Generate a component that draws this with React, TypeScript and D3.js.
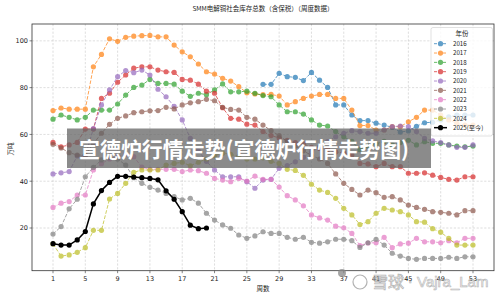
import React from "react";
import * as d3 from "d3";

const W = 500;
const H = 297;

const weeks: number[] = Array.from({ length: 53 }, (_, i) => i + 1);
const xTicks = [1, 5, 9, 13, 17, 21, 25, 29, 33, 37, 41, 45, 49, 53];
const yTicks = [20, 40, 60, 80, 100];

type V = number | null;
const N = null;

const s2016: V[] = [N, N, N, N, N, N, N, N, N, N, N, N, N, N, N, N, N, N, N, N, N, N, N, N, N, N,
  81.4, 81.4, 86.1, 84.7, 84.4, 83.0, 86.5, 83.2, 80.1, 72.6, 72.6, 68.3, 65.9, 65.9, 64.8, 64.0, 63.0, 61.0, 61.5, 63.5, 65.0, 65.2, 66.2, 67.5, 68.3, 68.3, 68.3];
const s2017: V[] = [70.2, 71.3, 70.8, 70.8, 70.8, 88.9, 94.2, 100.9, 99.8, 101.5, 102.0, 102.2, 102.3, 101.7, 101.7, 98.2, 95.3, 93.2, 90.1, 86.8, 85.8, 84.0, 82.8, 80.4, 77.8, 77.3, 77.0,
  77.1, 76.4, 72.6, 74.0, 75.4, 76.4, 77.1, 77.1, 75.4, 75.4, 70.4, 63.8, 63.8, 61.9, 61.9, 63.3, 63.3, 65.4, 67.3, 70.4, 70.4, 68.3, 66.2, 64.7, 64.0, 64.0];
const s2018: V[] = [66.5, 68.3, 67.3, 66.2, 67.3, 70.4, 70.4, 70.4, 73.0, 76.8, 80.1, 81.1, 83.5, 81.8, 81.8, 81.5, 78.5, 76.3, 77.6, 77.0, 79.0, 81.6, 78.2, 78.2, 78.5, 77.6, 76.6,
  76.1, 72.6, 69.7, 69.7, 68.7, 66.2, 64.0, 63.6, 61.2, 59.0, 57.0, 53.5, 55.0, 56.0, 57.0, 55.5, 56.5, 57.5, 55.5, 56.9, 56.2, 56.2, 55.5, 55.0, 54.7, 55.0];
const s2019: V[] = [56.6, 54.7, 55.5, 56.6, 62.3, 62.3, 75.4, 77.6, 82.3, 85.4, 88.3, 88.9, 88.9, 87.5, 86.8, 86.5, 83.5, 83.2, 81.5, 78.5, 77.6, 71.4, 66.9, 66.5, 64.4, 64.0, 61.2,
  59.5, 58.5, 57.5, 56.5, 56.0, 54.5, 54.0, 53.5, 52.5, 52.0, 51.2, 47.6, 47.4, 46.2, 47.6, 46.2, 46.2, 43.4, 43.4, 43.6, 42.6, 41.6, 40.8, 40.5, 41.9, 41.9];
const s2020: V[] = [43.1, 43.6, 44.1, 50.8, 50.8, 62.5, 72.6, 79.0, 84.7, 87.3, 86.4, 87.5, 85.4, 79.3, 76.1, 72.0, 66.2, 58.3, 53.0, 48.5, 44.8, 41.9, 41.9, 41.9, 39.8, 37.0, 40.5,
  40.8, 45.5, 46.7, 48.3, 50.2, 52.6, 54.7, 56.9, 59.0, 60.5, 61.6, 61.2, 60.5, 60.5, 61.9, 63.3, 63.6, 63.3, 61.2, 58.3, 57.2, 56.5, 55.5, 54.5, 54.5, 55.5];
const s2021: V[] = [55.8, 54.2, 52.2, 51.2, 51.2, 56.0, 60.5, 64.3, 66.9, 67.9, 69.3, 69.7, 70.1, 70.2, 71.6, 70.9, 72.6, 73.5, 74.0, 75.0, 74.4, 71.6, 70.7, 70.4, 67.3, 66.5, 64.0,
  61.6, 59.5, 57.0, 55.0, 53.0, 51.0, 49.5, 47.6, 43.1, 39.1, 36.5, 34.1, 36.2, 35.1, 33.1, 33.4, 32.0, 29.8, 28.8, 28.0, 27.0, 26.7, 26.3, 25.6, 27.4, 27.4];
const s2022: V[] = [28.8, 30.6, 31.3, 34.1, 34.1, 44.8, 47.5, 49.5, 50.5, 51.5, 50.5, 46.0, 45.1, 45.1, 45.1, 45.1, 44.1, 44.8, 44.5, 43.4, 41.2, 40.5, 39.8, 41.2, 40.1, 42.2, 40.8,
  40.8, 37.5, 33.8, 32.0, 29.5, 25.6, 24.3, 23.4, 20.8, 20.1, 17.7, 12.5, 13.6, 13.7, 16.0, 11.6, 13.2, 13.5, 15.6, 14.1, 14.1, 13.7, 14.6, 13.7, 15.6, 15.6];
const s2023: V[] = [17.4, 20.6, 28.2, 32.3, 41.9, 45.9, 49.1, 50.2, 49.5, 46.9, 41.5, 39.1, 37.4, 36.2, 34.8, 33.4, 32.0, 32.7, 30.6, 26.3, 23.4, 21.3, 19.9, 17.0, 15.6, 16.6, 18.4,
  17.7, 17.7, 16.0, 15.2, 16.0, 13.9, 13.5, 14.1, 15.2, 15.2, 14.6, 11.7, 13.7, 15.2, 12.7, 9.2, 8.0, 7.0, 6.6, 7.0, 7.0, 7.0, 7.5, 7.0, 7.7, 7.7];
const s2024: V[] = [13.2, 8.0, 8.5, 9.6, 11.6, 19.0, 19.0, 32.4, 34.8, 39.1, 43.8, 44.8, 44.8, 44.8, 46.9, 47.6, 48.1, 46.6, 48.1, 49.5, 50.9, 52.0, 51.5, 50.5, 49.5, 49.5, 50.0,
  48.5, 47.6, 45.1, 44.6, 42.5, 38.7, 36.2, 35.2, 32.7, 28.4, 25.6, 21.5, 22.7, 26.3, 28.4, 27.7, 27.0, 25.6, 22.7, 22.5, 19.7, 18.2, 15.6, 12.7, 12.7, 12.7];
const s2025: V[] = [13.3, 12.7, 12.7, 14.9, 18.5, 30.3, 36.0, 39.5, 42.1, 42.1, 41.8, 41.5, 41.2, 40.6, 35.9, 32.3, 27.0, 21.2, 19.7, 20.0];

const seriesNames = ["2016", "2017", "2018", "2019", "2020", "2021", "2022", "2023", "2024", "2025(至今)"];
const seriesValues: V[][] = [s2016, s2017, s2018, s2019, s2020, s2021, s2022, s2023, s2024, s2025];
const seriesColors = ["#1f77b4", "#ff7f0e", "#2ca02c", "#d62728", "#9467bd", "#8c564b", "#e377c2", "#7f7f7f", "#bcbd22", "#000000"];

const title = "SMM电解铜社会库存总数（含保税）（周度数据）";
const xLabel = "周数";
const yLabel = "万吨";
const legendTitle = "年份";
const bannerText = "宣德炉行情走势(宣德炉行情走势图)";

const L = 32, R = 494, T = 24, B = 270.7;
const CJK = "'Noto Sans CJK SC', 'DejaVu Sans', sans-serif";
const NUM = "'DejaVu Sans', sans-serif";

export default function App() {
  const x = d3.scaleLinear().domain([-1.6, 55.6]).range([L, R]);
  const y = d3.scaleLinear().domain([1.75, 107.2]).range([B, T]);

  const line = d3
    .line<[number, V]>()
    .defined((d) => d[1] !== null)
    .x((d) => x(d[0]))
    .y((d) => y(d[1] as number));

  const legX = 431, legY = 27.5, legW = 61.5, legH = 108.5;

  return (
    <svg width={W} height={H} style={{ position: "absolute", left: 0, top: 0, background: "#fff" }}>
      <rect x={0} y={0} width={W} height={H} fill="#fff" />
      <text x={263} y={11} textAnchor="middle" fontSize={6.5} fontFamily={CJK} fill="#222">{title}</text>

      {/* grid */}
      <g>
        {xTicks.map((t) => (
          <line key={"gx" + t} x1={x(t)} x2={x(t)} y1={T} y2={B} stroke="#c8c8c8" strokeWidth={0.6} strokeDasharray="2.2,1.6" />
        ))}
        {yTicks.map((t) => (
          <line key={"gy" + t} x1={L} x2={R} y1={y(t)} y2={y(t)} stroke="#c8c8c8" strokeWidth={0.6} strokeDasharray="2.2,1.6" />
        ))}
      </g>

      {/* series */}
      {seriesValues.map((vals, si) => {
        const pts: [number, V][] = vals.map((v, i) => [weeks[i], v]);
        const isLast = si === seriesValues.length - 1;
        const c = seriesColors[si];
        return (
          <g key={si} opacity={isLast ? 1 : 0.7}>
            <path d={line(pts) || ""} fill="none" stroke={c} strokeWidth={isLast ? 1.5 : 1} strokeDasharray={isLast ? undefined : "3.7,1.6"} />
            {pts.filter((p) => p[1] !== null).map((p, i) => (
              <circle key={i} cx={x(p[0])} cy={y(p[1] as number)} r={2.6} fill={c} />
            ))}
          </g>
        );
      })}

      {/* frame */}
      <rect x={L} y={T} width={R - L} height={B - T} fill="none" stroke="#333" strokeWidth={0.8} />

      {/* ticks */}
      {xTicks.map((t) => (
        <g key={"tx" + t}>
          <line x1={x(t)} x2={x(t)} y1={B} y2={B + 2.5} stroke="#333" strokeWidth={0.6} />
          <text x={x(t)} y={B + 10.5} textAnchor="middle" fontSize={6.5} fontFamily={NUM} fill="#222">{t}</text>
        </g>
      ))}
      {yTicks.map((t) => (
        <g key={"ty" + t}>
          <line x1={L - 2.5} x2={L} y1={y(t)} y2={y(t)} stroke="#333" strokeWidth={0.6} />
          <text x={L - 4} y={y(t) + 2.3} textAnchor="end" fontSize={6.5} fontFamily={NUM} fill="#222">{t}</text>
        </g>
      ))}
      <text x={263} y={291} textAnchor="middle" fontSize={6.5} fontFamily={CJK} fill="#222">{xLabel}</text>
      <text transform={`translate(12.5,149) rotate(-90)`} textAnchor="middle" fontSize={6.5} fontFamily={CJK} fill="#222">{yLabel}</text>

      {/* legend */}
      <rect x={legX} y={legY} width={legW} height={legH} rx={2} fill="#fff" fillOpacity={0.8} stroke="#cccccc" strokeWidth={0.6} />
      <text x={legX + 31} y={legY + 8.5} textAnchor="middle" fontSize={6.5} fontFamily={CJK} fill="#222">{legendTitle}</text>
      {seriesNames.map((n, i) => {
        const ly = 43.7 + i * 9.33;
        const isLast = i === seriesNames.length - 1;
        return (
          <g key={n}>
            <g opacity={isLast ? 1 : 0.7}>
              <line x1={434} x2={447} y1={ly} y2={ly} stroke={seriesColors[i]} strokeWidth={isLast ? 1.5 : 1} strokeDasharray={isLast ? undefined : "3,1.5"} />
              <circle cx={440.5} cy={ly} r={2.6} fill={seriesColors[i]} />
            </g>
            <text x={453} y={ly + 2.3} fontSize={6.2} fontFamily={CJK} fill="#222">{n}</text>
          </g>
        );
      })}

      {/* banner overlay */}
      <rect x={67} y={128.5} width={364} height={39.5} fill="#646464" fillOpacity={0.75} />
      <text x={244} y={157} textAnchor="middle" fontSize={21} fontWeight="bold" fontFamily={CJK} fill="#fff" textLength={330} lengthAdjust="spacingAndGlyphs">{bannerText}</text>

      {/* watermark */}
      <g opacity={0.75}>
        <circle cx={342} cy={273} r={4} fill="#888" />
        <circle cx={360} cy={282} r={7} fill="none" stroke="#999" strokeWidth={1.2} />
        <text x={372} y={288} fontSize={16} fontFamily={CJK} fill="#f2f2f2" stroke="#9a9a9a" strokeWidth={0.7}>雪球</text>
        <text x={408} y={287} fontSize={14} fontFamily={NUM} fill="#f2f2f2" stroke="#9a9a9a" strokeWidth={0.6}>·</text>
        <text x={417} y={287} fontSize={15} fontFamily={"'Liberation Sans', sans-serif"} fill="#f2f2f2" stroke="#9a9a9a" strokeWidth={0.6}>Vajra_Lam</text>
      </g>
    </svg>
  );
}
